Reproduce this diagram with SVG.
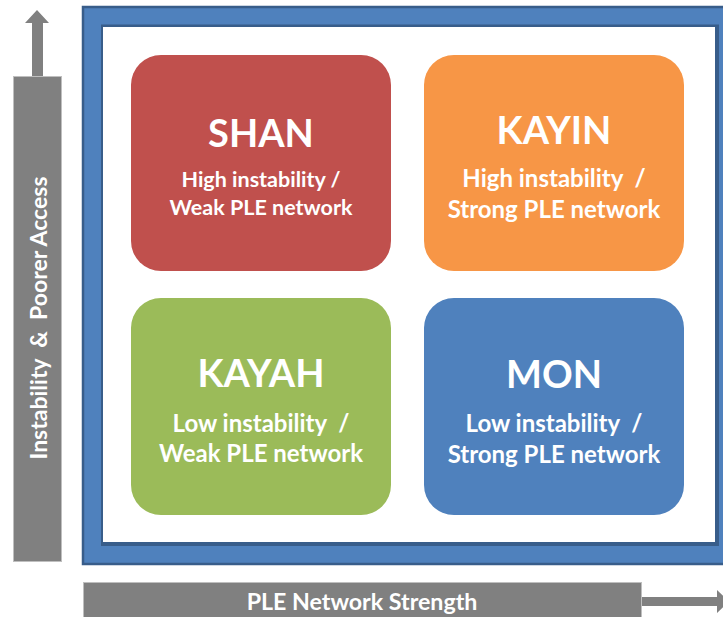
<svg xmlns="http://www.w3.org/2000/svg" width="723" height="617" viewBox="0 0 723 617">
  <style>
    .bar { fill: #808080; stroke: #BFBFBF; stroke-width: 1; }
    .arrow { fill: #808080; }
    .axis-label { font-family: Lato, "Open Sans", "Liberation Sans", sans-serif; font-weight: bold; fill: #FFFFFF; }
    .card-title { font-family: Lato, "Open Sans", "Liberation Sans", sans-serif; font-weight: bold; font-size: 38px; fill: #FFFFFF; text-anchor: middle; }
    .card-text { font-family: Lato, "Open Sans", "Liberation Sans", sans-serif; font-weight: bold; font-size: 24px; fill: #FFFFFF; text-anchor: middle; }
    .card-text.small { font-size: 21.5px; }
  </style>

  <!-- background -->
  <rect x="0" y="0" width="723" height="617" fill="#FFFFFF"/>

  <!-- frame around the quadrant grid -->
  <g id="frame">
    <rect x="83" y="7" width="660" height="557" fill="#4F81BD" stroke="#385D8A" stroke-width="2.5"/>
    <rect x="101" y="24.5" width="618" height="521.5" fill="#385D8A"/>
    <rect x="103" y="27" width="612" height="515" fill="#FFFFFF"/>
  </g>

  <!-- axes -->
  <g id="axes">
    <g id="y-axis">
      <polygon class="arrow" points="37,10 49,23 43,23 43,77 32,77 32,23 25,23"/>
      <rect class="bar" x="13.5" y="76.5" width="48" height="485"/>
      <text class="axis-label" font-size="23" text-anchor="middle" transform="translate(47 318) rotate(-90)" xml:space="preserve">Instability  &amp;  Poorer Access</text>
    </g>
    <g id="x-axis">
      <polygon class="arrow" points="641,597 717,597 717,590 729,601.5 717,613 717,606 641,606"/>
      <rect class="bar" x="83.5" y="582.5" width="558" height="40"/>
      <text class="axis-label" font-size="23.2" x="362" y="610" text-anchor="middle">PLE Network Strength</text>
    </g>
  </g>

  <!-- quadrant cards -->
  <g id="shan">
    <rect x="131" y="55" width="260" height="216" rx="30" ry="30" fill="#C0504D"/>
    <text class="card-title" x="261" y="147">SHAN</text>
    <text class="card-text small" x="261" y="187">High instability /</text>
    <text class="card-text small" x="261" y="215">Weak PLE network</text>
  </g>

  <g id="kayin">
    <rect x="424" y="55" width="260" height="216" rx="30" ry="30" fill="#F79646"/>
    <text class="card-title" x="554" y="144">KAYIN</text>
    <text class="card-text" x="554" y="187" xml:space="preserve">High instability  /</text>
    <text class="card-text" x="554" y="218">Strong PLE network</text>
  </g>

  <g id="kayah">
    <rect x="131" y="298" width="260" height="217" rx="30" ry="30" fill="#9BBB59"/>
    <text class="card-title" x="261" y="387">KAYAH</text>
    <text class="card-text" x="261" y="432" xml:space="preserve">Low instability  /</text>
    <text class="card-text" x="261" y="462">Weak PLE network</text>
  </g>

  <g id="mon">
    <rect x="424" y="298" width="260" height="217" rx="30" ry="30" fill="#4F81BD"/>
    <text class="card-title" x="554" y="388">MON</text>
    <text class="card-text" x="554" y="432" xml:space="preserve">Low instability  /</text>
    <text class="card-text" x="554" y="463">Strong PLE network</text>
  </g>
</svg>
